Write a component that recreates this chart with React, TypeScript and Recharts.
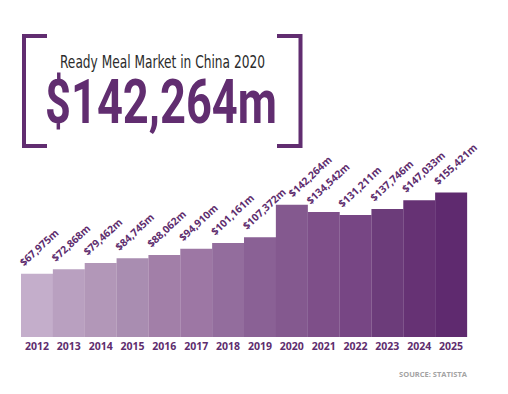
import React from "react";
import { BarChart, Bar, XAxis, YAxis, Cell, LabelList } from "recharts";

const years = ["2012", "2013", "2014", "2015", "2016", "2017", "2018", "2019", "2020", "2021", "2022", "2023", "2024", "2025"];
const values = [67975, 72868, 79462, 84745, 88062, 94910, 101161, 107372, 142264, 134542, 131211, 137746, 147033, 155421];
const barColors = [
  "#c4aecb", "#b9a0c0", "#b297b8", "#a98db1", "#a27fa8", "#9d77a4", "#936d9d",
  "#8a6195", "#84598f", "#7e4f89", "#774684", "#6c3c7a", "#663274", "#5f2a6f",
];

const PURPLE = "#612d70";
const FONT = "'Open Sans', 'Noto Sans', sans-serif";

const data = years.map((year, i) => ({ year, value: values[i] }));

const fmt = (v: number) => `$${v.toLocaleString("en-US")}m`;

// rotated value label sitting on the top-left corner of each bar
function ValueLabel(props: any) {
  const { x, y, value, index } = props;
  // the 2020 label is nudged right so it clears the 2019 one
  const nudge = index === 8 ? 14 : 0;
  const lx = Number(x) + 3 + nudge;
  const ly = Number(y) - 7;
  return (
    <g transform={`translate(${lx}, ${ly}) rotate(-43)`}>
      <text
        x={0}
        y={0}
        fill="#5e2d6e"
        fontSize={10.3}
        fontWeight={700}
        fontFamily={FONT}
        textAnchor="start"
      >
        {fmt(Number(value))}
      </text>
    </g>
  );
}

function Header() {
  return (
    <svg
      width={508}
      height={394}
      style={{ position: "absolute", left: 0, top: 0, pointerEvents: "none" }}
    >
      {/* left bracket */}
      <path d="M47 36 H24 V146 H47" fill="none" stroke={PURPLE} strokeWidth={4} />
      {/* right bracket */}
      <path d="M277 36 H300.5 V146 H277" fill="none" stroke={PURPLE} strokeWidth={4} />
      <text
        x={60}
        y={68}
        fontSize={17}
        fontFamily="'DejaVu Sans Condensed', 'Liberation Sans Narrow', Roboto, sans-serif"
        fill="#2b2b2b"
        textLength={205}
        lengthAdjust="spacingAndGlyphs"
      >
        Ready Meal Market in China 2020
      </text>
      <text
        x={45}
        y={123}
        fontSize={62}
        fontWeight={700}
        fontFamily="Roboto, 'DejaVu Sans', sans-serif"
        fill={PURPLE}
        textLength={232}
        lengthAdjust="spacingAndGlyphs"
      >
        $142,264m
      </text>
      <text
        x={467}
        y={377}
        fontSize={7.5}
        fontWeight={700}
        fontFamily={FONT}
        fill="#a3a3a3"
        textAnchor="end"
      >
        SOURCE: STATISTA
      </text>
    </svg>
  );
}

export default function App() {
  return (
    <div style={{ position: "fixed", left: 0, top: 0, width: 508, height: 394, background: "#fff" }}>
      <BarChart
        width={508}
        height={394}
        data={data}
        margin={{ top: 151, right: 41, left: 21, bottom: 37 }}
        barCategoryGap={0}
      >
        <XAxis
          dataKey="year"
          axisLine={false}
          tickLine={false}
          tickSize={4}
          tickMargin={2}
          height={20}
          interval={0}
          tick={{ fill: "#5e2d6e", fontSize: 10.5, fontWeight: 700, fontFamily: FONT }}
        />
        <YAxis hide domain={[0, 200000]} />
        <Bar dataKey="value" isAnimationActive={false}>
          {data.map((d, i) => (
            <Cell key={d.year} fill={barColors[i]} />
          ))}
          <LabelList dataKey="value" content={ValueLabel} />
        </Bar>
      </BarChart>
      <Header />
    </div>
  );
}
